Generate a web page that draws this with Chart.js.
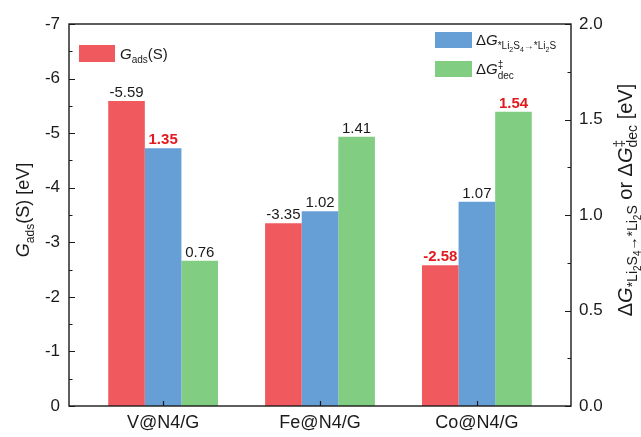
<!DOCTYPE html>
<html>
<head>
<meta charset="utf-8">
<script src="https://cdn.jsdelivr.net/npm/chart.js@4/dist/chart.umd.min.js"></script>
<style>
  html, body { margin: 0; padding: 0; background: #fff; }
  #wrap { width: 641px; height: 437px; position: relative; }
</style>
</head>
<body>
<div id="wrap"><canvas id="c" width="641" height="437"></canvas></div>
<script>
// Catalysts on the x axis
const categories = ['V@N4/G', 'Fe@N4/G', 'Co@N4/G'];
// Adsorption energy of S (left axis, eV)
const gAds = [-5.59, -3.35, -2.58];
// Reaction free energy *Li2S4 -> *Li2S (right axis, eV)
const dGLi2S = [1.35, 1.02, 1.07];
// Li2S decomposition barrier (right axis, eV)
const dGdec = [0.76, 1.41, 1.54];
// Axis ticks
const leftTicks = [0, -1, -2, -3, -4, -5, -6, -7];
const rightTicks = [0, 0.5, 1.0, 1.5, 2.0];
// Values printed in red bold
const highlight = { gAds: [false, false, true], dGLi2S: [true, false, false], dGdec: [false, false, true] };

const RED = '#F0595D', BLUE = '#659FD6', GREEN = '#81CD81';
const TXT_RED = '#E01A1F';
const FONT = "'Liberation Sans', Arial, sans-serif";
const INK = '#1a1a1a';

function font(px, it, bold) {
  return (it ? 'italic ' : '') + (bold ? 'bold ' : '') + px + 'px ' + FONT;
}

// Measure / draw a run of text pieces with sub- and superscripts
function richWidth(ctx, parts) {
  let x = 0, last = 0, lastStart = 0;
  for (const p of parts) {
    ctx.font = font(p.px, p.it, p.bold);
    const w = ctx.measureText(p.t).width;
    if (p.stack) {
      x = lastStart + Math.max(last, w);
      last = Math.max(last, w);
    } else {
      lastStart = x;
      last = w;
      x += w;
    }
  }
  return x;
}
function drawRich(ctx, parts, x0, y) {
  let x = x0, last = 0, lastStart = x0;
  ctx.textBaseline = 'alphabetic';
  ctx.textAlign = 'left';
  for (const p of parts) {
    ctx.font = font(p.px, p.it, p.bold);
    const w = ctx.measureText(p.t).width;
    if (p.stack) {
      ctx.fillText(p.t, lastStart, y + (p.dy || 0));
      x = lastStart + Math.max(last, w);
      last = Math.max(last, w);
    } else {
      ctx.fillText(p.t, x, y + (p.dy || 0));
      lastStart = x;
      last = w;
      x += w;
    }
  }
}

// Subscript "*Li2S4 -> *Li2S" built at a given base size
function reactionSub(px, dy) {
  const s = Math.round(px * 0.72);
  return [
    { t: '*Li', px: px, dy: dy },
    { t: '2', px: s, dy: dy + px * 0.3 },
    { t: 'S', px: px, dy: dy },
    { t: '4', px: s, dy: dy + px * 0.3 },
    { t: '\u2192', px: px, dy: dy },
    { t: '*Li', px: px, dy: dy },
    { t: '2', px: s, dy: dy + px * 0.3 },
    { t: 'S', px: px, dy: dy }
  ];
}

const decor = {
  id: 'decor',
  afterDraw(chart) {
    const ctx = chart.ctx;
    const a = chart.chartArea;
    const xs = chart.scales.x, yl = chart.scales.yL, yr = chart.scales.yR;
    ctx.save();
    ctx.strokeStyle = INK;
    ctx.lineWidth = 1.4;
    ctx.strokeRect(a.left, a.top, a.right - a.left, a.bottom - a.top);

    // inward tick marks
    ctx.lineWidth = 1.2;
    ctx.beginPath();
    for (let v = -7; v <= 0.001; v += 0.5) {
      const y = Math.round(yl.getPixelForValue(v)) + 0.5;
      const len = Math.abs(v - Math.round(v)) < 1e-6 ? 6 : 3.5;
      ctx.moveTo(a.left, y); ctx.lineTo(a.left + len, y);
    }
    for (let v = 0; v <= 2.001; v += 0.25) {
      const y = Math.round(yr.getPixelForValue(v)) + 0.5;
      const len = Math.abs(v * 2 - Math.round(v * 2)) < 1e-6 ? 6 : 3.5;
      ctx.moveTo(a.right, y); ctx.lineTo(a.right - len, y);
    }
    categories.forEach((c, i) => {
      const x = Math.round(xs.getPixelForValue(i)) + 0.5;
      ctx.moveTo(x, a.bottom); ctx.lineTo(x, a.bottom - 5);
    });
    ctx.stroke();

    // value labels above bars
    const keys = ['gAds', 'dGLi2S', 'dGdec'];
    chart.data.datasets.forEach((ds, di) => {
      const meta = chart.getDatasetMeta(di);
      meta.data.forEach((bar, i) => {
        const v = ds.data[i].y;
        const hl = highlight[keys[di]][i];
        ctx.font = font(15, false, hl);
        ctx.fillStyle = hl ? TXT_RED : INK;
        ctx.textAlign = 'center';
        ctx.textBaseline = 'alphabetic';
        ctx.fillText(v.toFixed(2), bar.x, bar.y - 4);
      });
    });

    // legends
    ctx.fillStyle = RED;
    ctx.fillRect(79, 45, 36, 17);
    ctx.fillStyle = INK;
    drawRich(ctx, [
      { t: 'G', px: 15, it: true },
      { t: 'ads', px: 10, dy: 4 },
      { t: '(S)', px: 15 }
    ], 120, 59);

    ctx.fillStyle = BLUE;
    ctx.fillRect(435, 32, 37, 16);
    ctx.fillStyle = GREEN;
    ctx.fillRect(435, 61, 37, 16);
    ctx.fillStyle = INK;
    drawRich(ctx, [
      { t: '\u0394', px: 15 },
      { t: 'G', px: 15, it: true }
    ].concat(reactionSub(10, 4)), 476, 45);
    drawRich(ctx, [
      { t: '\u0394', px: 15 },
      { t: 'G', px: 15, it: true },
      { t: '\u2021', px: 10, dy: -6 },
      { t: 'dec', px: 10, dy: 5, stack: true }
    ], 476, 74);

    // left axis title
    const lt = [
      { t: 'G', px: 18, it: true },
      { t: 'ads', px: 12, dy: 5 },
      { t: '(S) [eV]', px: 18 }
    ];
    ctx.save();
    ctx.translate(29, 210);
    ctx.rotate(-Math.PI / 2);
    drawRich(ctx, lt, -richWidth(ctx, lt) / 2, 0);
    ctx.restore();

    // right axis title
    const rt = [
      { t: '\u0394', px: 20 },
      { t: 'G', px: 20, it: true }
    ].concat(reactionSub(14, 5)).concat([
      { t: ' or \u0394', px: 20 },
      { t: 'G', px: 20, it: true },
      { t: '\u2021', px: 14, dy: -8 },
      { t: 'dec', px: 14, dy: 5, stack: true },
      { t: ' [eV]', px: 20 }
    ]);
    ctx.save();
    ctx.translate(632, 200);
    ctx.rotate(-Math.PI / 2);
    drawRich(ctx, rt, -richWidth(ctx, rt) / 2, 0);
    ctx.restore();

    ctx.restore();
  }
};

const toPoints = arr => arr.map((v, i) => ({ x: i, y: v }));

new Chart(document.getElementById('c'), {
  type: 'bar',
  data: {
    datasets: [
      { label: 'Gads(S)', data: toPoints(gAds), yAxisID: 'yL', backgroundColor: RED },
      { label: 'dG Li2S4->Li2S', data: toPoints(dGLi2S), yAxisID: 'yR', backgroundColor: BLUE },
      { label: 'dG dec', data: toPoints(dGdec), yAxisID: 'yR', backgroundColor: GREEN }
    ]
  },
  options: {
    responsive: false,
    animation: false,
    devicePixelRatio: 1,
    layout: { padding: { top: 24, left: 0, right: 0, bottom: 0 } },
    categoryPercentage: 0.70,
    barPercentage: 1.0,
    plugins: { legend: { display: false }, tooltip: { enabled: false } },
    scales: {
      x: {
        type: 'linear',
        min: -0.6, max: 2.6,
        offset: false,
        afterBuildTicks: s => { s.ticks = categories.map((c, i) => ({ value: i })); },
        afterFit: s => { s.height = 31; },
        ticks: {
          callback: v => categories[v] || '',
          font: { family: FONT, size: 18 },
          color: INK,
          padding: 6,
          maxRotation: 0,
          autoSkip: false
        },
        grid: { display: false, drawTicks: false, offset: false },
        border: { display: false }
      },
      yL: {
        type: 'linear',
        position: 'left',
        min: -7, max: 0,
        reverse: true,
        afterBuildTicks: s => { s.ticks = leftTicks.map(v => ({ value: v })); },
        afterFit: s => { s.width = 69; },
        ticks: {
          callback: v => (v < 0 ? '-' + Math.abs(v) : String(v)),
          font: { family: FONT, size: 17 },
          color: INK,
          padding: 9
        },
        grid: { display: false, drawTicks: false },
        border: { display: false }
      },
      yR: {
        type: 'linear',
        position: 'right',
        min: 0, max: 2,
        afterBuildTicks: s => { s.ticks = rightTicks.map(v => ({ value: v })); },
        afterFit: s => { s.width = 70; },
        ticks: {
          callback: v => Number(v).toFixed(1),
          font: { family: FONT, size: 17 },
          color: INK,
          padding: 8
        },
        grid: { display: false, drawTicks: false },
        border: { display: false }
      }
    }
  },
  plugins: [decor]
});
</script>
</body>
</html>
